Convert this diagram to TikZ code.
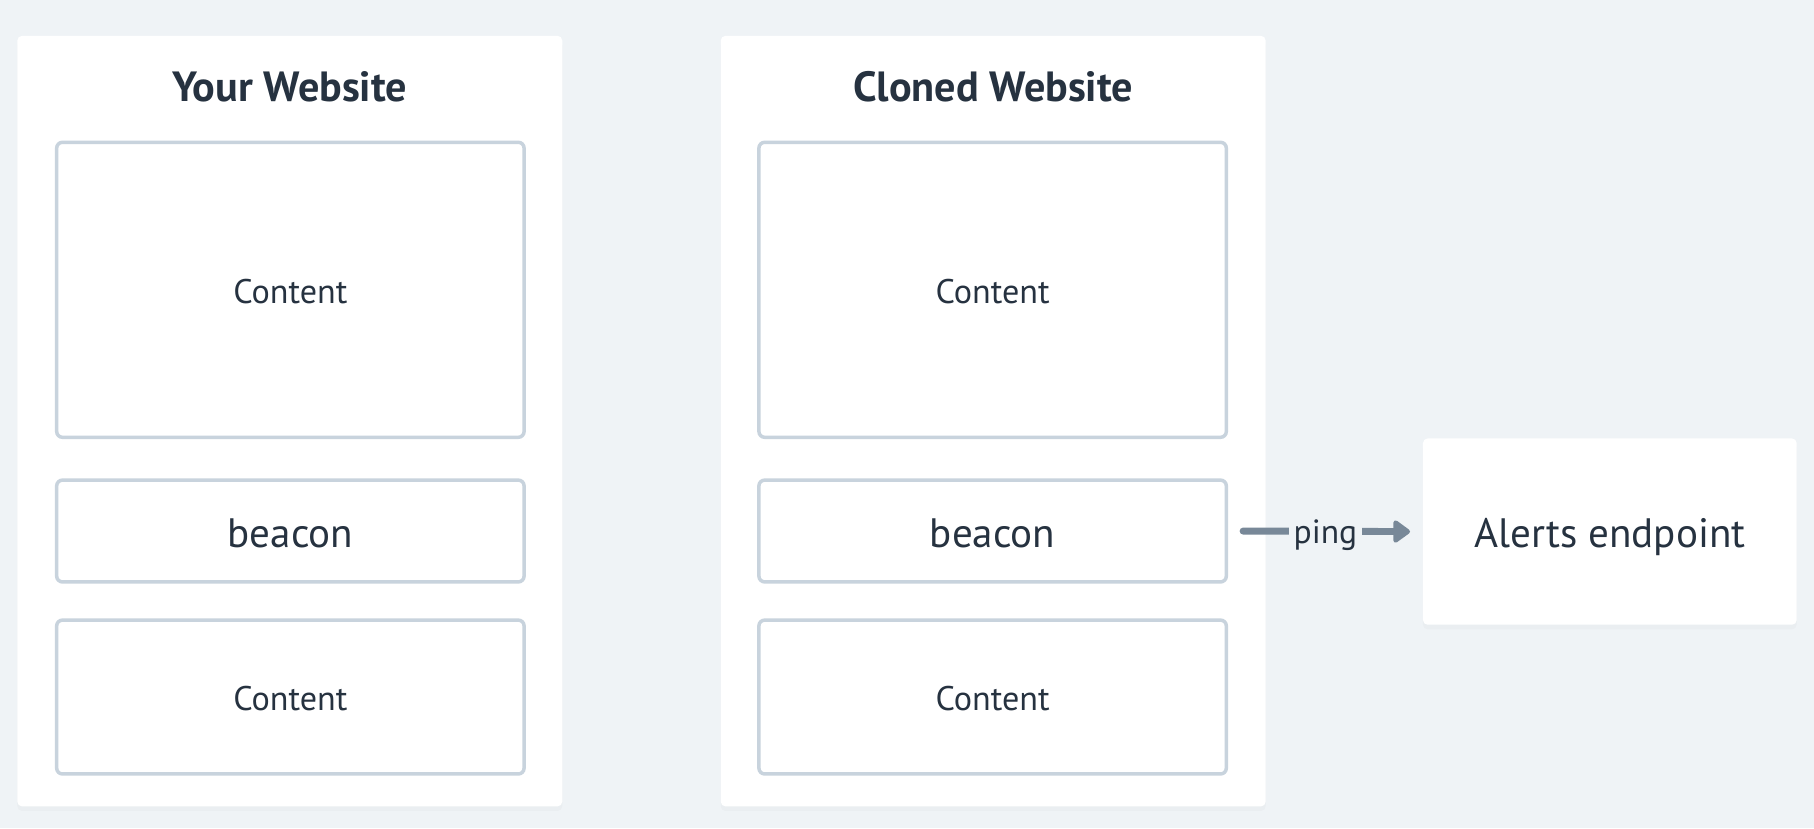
\documentclass[tikz,border=0pt]{standalone}
\usepackage{fontspec}
\setmainfont{PT Sans}
\usetikzlibrary{arrows.meta,shadows}
\definecolor{bgc}{RGB}{239,243,246}
\definecolor{txt}{RGB}{38,50,64}
\definecolor{bord}{RGB}{200,211,221}
\definecolor{arr}{RGB}{120,136,152}
\tikzset{
  panel/.style={fill=white, rounded corners=4pt, inner sep=0pt,
    drop shadow={opacity=0.04, shadow xshift=0pt, shadow yshift=-4pt}},
  cbox/.style={draw=bord, line width=3pt, fill=white, rounded corners=5pt, inner sep=0pt, minimum width=404pt},
  lbl/.style={text=txt, font=\fontsize{29.5}{34}\selectfont, anchor=base},
  big/.style={text=txt, font=\fontsize{35.5}{40}\selectfont, anchor=base},
  ttl/.style={text=txt, font=\bfseries\fontsize{36.5}{42}\selectfont, anchor=base},
}
\begin{document}
\begin{tikzpicture}[x=1pt,y=-1pt]
\fill[bgc] (0,0) rectangle (1568,716);
\useasboundingbox (0,0) rectangle (1568,716);
% panels
\node[panel, minimum width=471pt, minimum height=666pt] (lp) at (250.5,364) {};
\node[panel, minimum width=471pt, minimum height=666pt] (rp) at (858.5,364) {};
\node[panel, minimum width=323pt, minimum height=161pt] (al) at (1391.5,459.5) {};
% titles
\node[ttl] (lt) at (250.5,88) {Your Website};
\node[ttl] (rt) at (858.5,88) {Cloned Website};
% left boxes
\node[cbox, minimum height=255pt] (lb1) at (251,250.5) {};
\node[cbox, minimum height=88pt] (lb2) at (251,459) {};
\node[cbox, minimum height=133pt] (lb3) at (251,602.5) {};
% right boxes
\node[cbox, minimum height=255pt] (rb1) at (858,250.5) {};
\node[cbox, minimum height=88pt] (rb2) at (858,459) {};
\node[cbox, minimum height=133pt] (rb3) at (858,602.5) {};
% labels
\node[lbl] (lc1) at (251,262) {Content};
\node[big] (lbc) at (251,473) {beacon};
\node[lbl] (lc2) at (251,614) {Content};
\node[lbl] (rc1) at (858,262) {Content};
\node[big] (rbc) at (858,473) {beacon};
\node[lbl] (rc2) at (858,614) {Content};
\node[big] (alt) at (1391.5,473) {Alerts endpoint};
% arrow
\draw[arr, line width=6pt, line cap=round, shorten <=13pt, shorten >=11pt,
  -{Triangle[length=16pt,width=22pt,round]}]
  (rb2.east) -- node[fill=bgc, text=txt, font=\fontsize{29}{34}\selectfont, inner sep=4pt, anchor=mid, yshift=-8pt] (ping) {ping} (al.west);
\end{tikzpicture}
\end{document}
